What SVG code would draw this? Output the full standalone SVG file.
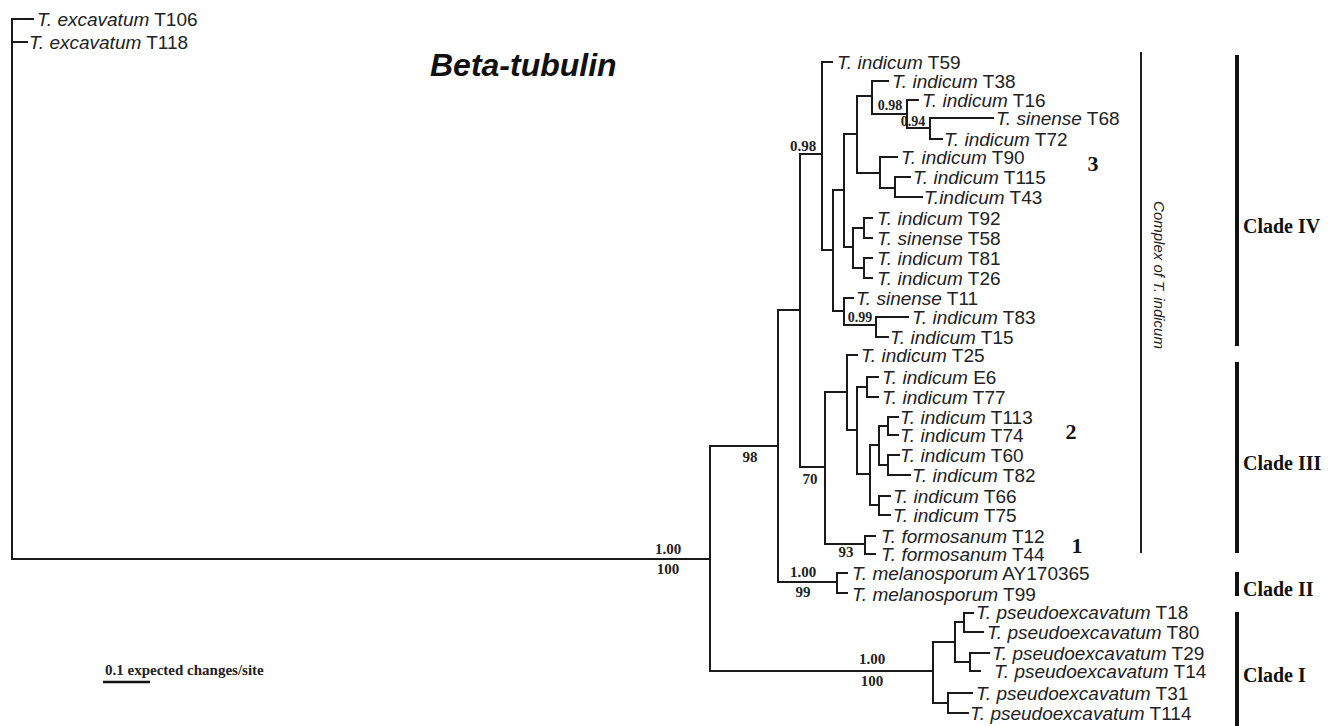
<svg xmlns="http://www.w3.org/2000/svg" width="1332" height="726" viewBox="0 0 1332 726">
<style>
.br{fill:none;stroke:#1a1a1a;stroke-width:2;stroke-linecap:square}
.lf{font-family:"Liberation Sans",Arial,sans-serif;font-size:19px;fill:#222}
.it{font-style:italic}
.sp{font-family:"Liberation Serif","Times New Roman",serif;font-weight:bold;font-size:15px;fill:#222;text-anchor:middle}
.sm{font-family:"Liberation Serif","Times New Roman",serif;font-weight:bold;font-size:14px;fill:#222;text-anchor:middle}
.cl{font-family:"Liberation Serif","Times New Roman",serif;font-weight:bold;font-size:20px;fill:#111}
.num{font-family:"Liberation Serif","Times New Roman",serif;font-weight:bold;font-size:22px;fill:#111;text-anchor:middle}
.bar{stroke:#111;stroke-width:4}
</style>
<rect width="1332" height="726" fill="#fff"/>
<text x="430" y="76" style="font-family:'Liberation Sans',Arial,sans-serif;font-weight:bold;font-style:italic;font-size:32px;fill:#111">Beta-tubulin</text>

<g id="connectors" class="br">
<path d="M12,19V559M12,19H33M12,42H27M12,559H710"/>
<path d="M710,446V671M710,446H778M710,671H933"/>
<path d="M778,310V582M778,310H800M778,582H837"/>
<path d="M837,573V593M837,573H847M837,593H847"/>
<path d="M800,154V467M800,154H822M800,467H825"/>
<path d="M822,62V250M822,62H832M822,250H833"/>
<path d="M833,190V311M833,190H844M833,311H844"/>
<path d="M844,134V247M844,134H857M844,247H853"/>
<path d="M857,96V173M857,96H872M857,173H880"/>
<path d="M872,81V114M872,81H888M872,114H907"/>
<path d="M907,100V128M907,100H918M907,128H930"/>
<path d="M930,118V139M930,118H993M930,139H942"/>
<path d="M880,157V188M880,157H897M880,188H895"/>
<path d="M895,177V197M895,177H910M895,197H922"/>
<path d="M853,228V268M853,228H864M853,268H864"/>
<path d="M864,218V238M864,218H872M864,238H872"/>
<path d="M864,258V278M864,258H872M864,278H872"/>
<path d="M844,298V325M844,298H853M844,325H876"/>
<path d="M876,317V337M876,317H908M876,337H888"/>
<path d="M825,392V544M825,392H847M825,544H865"/>
<path d="M865,536V554M865,536H875M865,554H875"/>
<path d="M847,355V430M847,355H857M847,430H857"/>
<path d="M857,387V474M857,387H867M857,474H870"/>
<path d="M867,377V397M867,377H878M867,397H878"/>
<path d="M870,445V505M870,445H879M870,505H879"/>
<path d="M879,426V465M879,426H888M879,465H888"/>
<path d="M888,417V435M888,417H898M888,435H898"/>
<path d="M888,455V475M888,455H899M888,475H910"/>
<path d="M879,496V515M879,496H890M879,515H890"/>
<path d="M933,642V703M933,642H955M933,703H948"/>
<path d="M955,622V662M955,622H964M955,662H970"/>
<path d="M964,613V632M964,613H973M964,632H983"/>
<path d="M970,653V671M970,653H989M970,671H980"/>
<path d="M948,693V713M948,693H972M948,713H968"/>
</g>

<g id="support">
<text class="sp" x="803" y="151">0.98</text>
<text class="sm" x="890" y="110">0.98</text>
<text class="sm" x="913" y="126">0.94</text>
<text class="sm" x="860" y="322">0.99</text>
<text class="sp" x="750" y="462">98</text>
<text class="sp" x="810" y="484">70</text>
<text class="sp" x="846" y="557">93</text>
<text class="sp" x="803" y="577">1.00</text>
<text class="sp" x="803" y="597">99</text>
<text class="sp" x="668" y="554">1.00</text>
<text class="sp" x="668" y="574">100</text>
<text class="sp" x="872" y="664">1.00</text>
<text class="sp" x="872" y="686">100</text>
</g>

<g id="leaves" class="lf">
<g id="T106"><text x="37" y="26"><tspan class="it">T. excavatum</tspan> T106</text></g>
<g id="T118"><text x="29" y="49"><tspan class="it">T. excavatum</tspan> T118</text></g>
<g id="T59"><text x="837" y="69"><tspan class="it">T. indicum</tspan> T59</text></g>
<g id="T38"><text x="892" y="88"><tspan class="it">T. indicum</tspan> T38</text></g>
<g id="T16"><text x="922" y="107"><tspan class="it">T. indicum</tspan> T16</text></g>
<g id="T68"><text x="996" y="125"><tspan class="it">T. sinense</tspan> T68</text></g>
<g id="T72"><text x="944" y="146"><tspan class="it">T. indicum</tspan> T72</text></g>
<g id="T90"><text x="901" y="164"><tspan class="it">T. indicum</tspan> T90</text></g>
<g id="T115"><text x="913" y="184"><tspan class="it">T. indicum</tspan> T115</text></g>
<g id="T43"><text x="924" y="204"><tspan class="it">T.indicum</tspan> T43</text></g>
<g id="T92"><text x="877" y="225"><tspan class="it">T. indicum</tspan> T92</text></g>
<g id="T58"><text x="877" y="245"><tspan class="it">T. sinense</tspan> T58</text></g>
<g id="T81"><text x="877" y="265"><tspan class="it">T. indicum</tspan> T81</text></g>
<g id="T26"><text x="877" y="285"><tspan class="it">T. indicum</tspan> T26</text></g>
<g id="T11"><text x="856" y="305"><tspan class="it">T. sinense</tspan> T11</text></g>
<g id="T83"><text x="912" y="324"><tspan class="it">T. indicum</tspan> T83</text></g>
<g id="T15"><text x="890" y="344"><tspan class="it">T. indicum</tspan> T15</text></g>
<g id="T25"><text x="861" y="362"><tspan class="it">T. indicum</tspan> T25</text></g>
<g id="E6"><text x="882" y="384"><tspan class="it">T. indicum</tspan> E6</text></g>
<g id="T77"><text x="882" y="404"><tspan class="it">T. indicum</tspan> T77</text></g>
<g id="T113"><text x="900" y="424"><tspan class="it">T. indicum</tspan> T113</text></g>
<g id="T74"><text x="900" y="442"><tspan class="it">T. indicum</tspan> T74</text></g>
<g id="T60"><text x="900" y="462"><tspan class="it">T. indicum</tspan> T60</text></g>
<g id="T82"><text x="912" y="482"><tspan class="it">T. indicum</tspan> T82</text></g>
<g id="T66"><text x="893" y="503"><tspan class="it">T. indicum</tspan> T66</text></g>
<g id="T75"><text x="893" y="522"><tspan class="it">T. indicum</tspan> T75</text></g>
<g id="T12"><text x="881" y="543"><tspan class="it">T. formosanum</tspan> T12</text></g>
<g id="T44"><text x="881" y="561"><tspan class="it">T. formosanum</tspan> T44</text></g>
<g id="AY170365"><text x="852" y="580"><tspan class="it">T. melanosporum</tspan> AY170365</text></g>
<g id="T99"><text x="852" y="601"><tspan class="it">T. melanosporum</tspan> T99</text></g>
<g id="T18"><text x="976" y="619"><tspan class="it">T. pseudoexcavatum</tspan> T18</text></g>
<g id="T80"><text x="987" y="639"><tspan class="it">T. pseudoexcavatum</tspan> T80</text></g>
<g id="T29"><text x="992" y="660"><tspan class="it">T. pseudoexcavatum</tspan> T29</text></g>
<g id="T14"><text x="994" y="678"><tspan class="it">T. pseudoexcavatum</tspan> T14</text></g>
<g id="T31"><text x="976" y="700"><tspan class="it">T. pseudoexcavatum</tspan> T31</text></g>
<g id="T114"><text x="970" y="720"><tspan class="it">T. pseudoexcavatum</tspan> T114</text></g>
</g>

<g id="groups">
<text class="num" x="1093" y="171">3</text>
<text class="num" x="1071" y="439">2</text>
<text class="num" x="1077" y="553">1</text>
<line x1="1141" y1="52" x2="1141" y2="553" stroke="#222" stroke-width="2"/>
<text transform="rotate(90 1154 275)" x="1154" y="275" text-anchor="middle" style="font-family:'Liberation Sans',Arial,sans-serif;font-style:italic;font-size:15px;fill:#222">Complex of T. indicum</text>
</g>

<g id="clades">
<line class="bar" x1="1237" y1="55" x2="1237" y2="346"/>
<text class="cl" x="1243" y="233">Clade IV</text>
<line class="bar" x1="1237" y1="362" x2="1237" y2="553"/>
<text class="cl" x="1243" y="470">Clade III</text>
<line class="bar" x1="1237" y1="572" x2="1237" y2="596"/>
<text class="cl" x="1243" y="596">Clade II</text>
<line class="bar" x1="1237" y1="612" x2="1237" y2="726"/>
<text class="cl" x="1243" y="682">Clade I</text>
</g>

<g id="scale">
<text x="105" y="675" style="font-family:'Liberation Serif','Times New Roman',serif;font-weight:bold;font-size:15px;fill:#222">0.1 expected changes/site</text>
<line x1="103" y1="682" x2="150" y2="682" stroke="#111" stroke-width="2.5"/>
</g>
</svg>
